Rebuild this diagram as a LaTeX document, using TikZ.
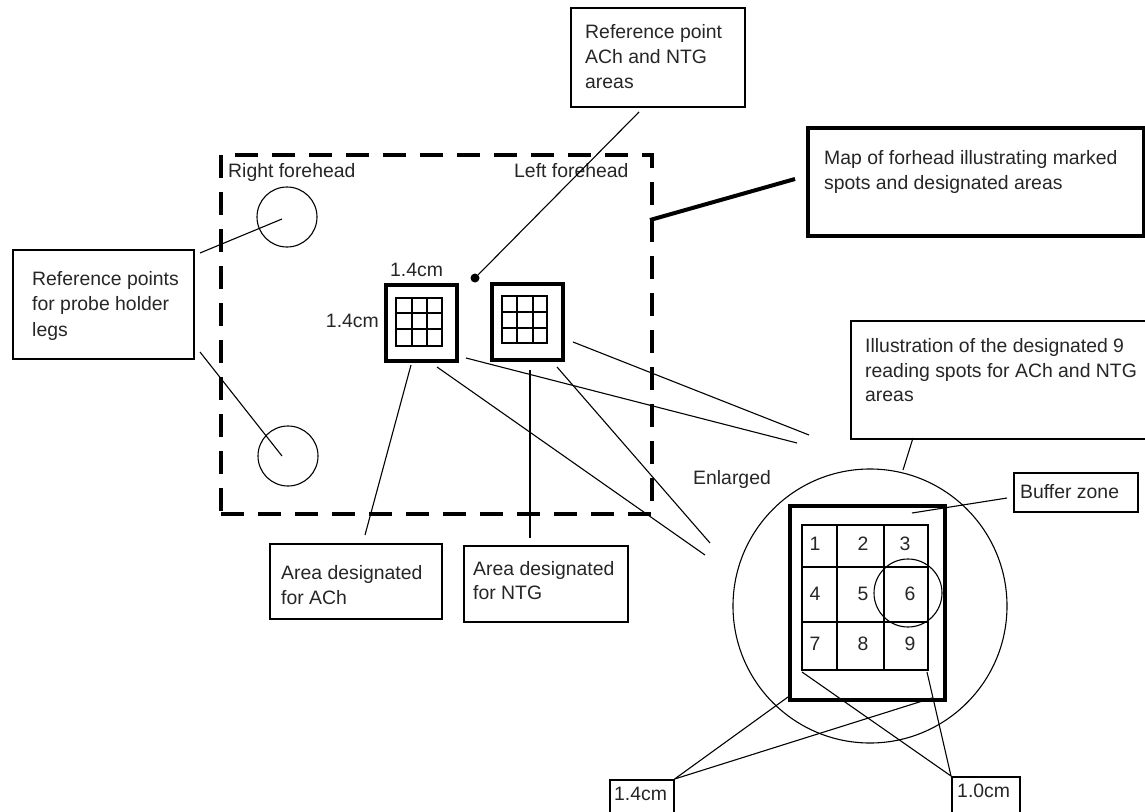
\documentclass[tikz,border=0pt]{standalone}
\usepackage{fontspec}
\setmainfont{Liberation Sans}
\begin{document}
\begin{tikzpicture}[x=1pt,y=-1pt,
  txt/.style={anchor=base west,inner sep=0pt,font=\fontsize{19.4}{24}\selectfont,text=black!85},
  ctxt/.style={anchor=base,inner sep=0pt,font=\fontsize{19.4}{24}\selectfont,text=black!85},
  rtxt/.style={anchor=base east,inner sep=0pt,font=\fontsize{19.4}{24}\selectfont,text=black!85},
  box/.style={draw,line width=1.6pt,anchor=north west,inner sep=0pt},
  thickbox/.style={draw,line width=4pt,anchor=north west,inner sep=0pt},
  conn/.style={line width=1.1pt},
  grid/.style={line width=1.3pt},
  ring/.style={circle,draw,line width=1.1pt,inner sep=0pt}]
\useasboundingbox (0,0) rectangle (1145,811);
\fill[white] (0,0) rectangle (1145,811);

% ---------- forehead map (dashed) ----------
\node[draw,line width=4pt,dash pattern=on 23pt off 14pt,anchor=north west,inner sep=0pt,
      minimum width=431pt,minimum height=359pt] (fmap) at (219,153) {};
\node[txt] (rfh) at (228,177) {Right forehead};
\node[txt] (lfh) at (514,177) {Left forehead};

\node[ring,minimum size=60pt] (legR) at (287,217) {};
\node[ring,minimum size=60pt] (legL) at (288,456) {};

% small squares
\node[draw,line width=3.5pt,anchor=north west,inner sep=0pt,minimum width=71pt,minimum height=76pt] (ach) at (384,283) {};
\draw[grid] (396,298) rectangle (442,346);
\draw[grid] (412,298) -- (412,346) (427,298) -- (427,346) (396,313) -- (442,313) (396,329) -- (442,329);
\node[draw,line width=3.5pt,anchor=north west,inner sep=0pt,minimum width=71pt,minimum height=76pt] (ntg) at (490,282) {};
\draw[grid] (502,296) rectangle (547,343);
\draw[grid] (517,296) -- (517,343) (533,296) -- (533,343) (502,312) -- (547,312) (502,328) -- (547,328);

\node[txt] (dimtop) at (390,276) {1.4cm};
\node[rtxt] (dimleft) at (379,327) {1.4cm};

\node[circle,fill,inner sep=0pt,minimum size=9pt] (refdot) at (475,278) {};

% ---------- labels ----------
\node[box,minimum width=181pt,minimum height=109pt] (refpts) at (12,249) {};
\node[txt] (rp1) at (32,285) {Reference points};
\node[txt] (rp2) at (32,310) {for probe holder};
\node[txt] (rp3) at (32,336) {legs};

\node[box,minimum width=174pt,minimum height=99pt] (refpt) at (570,7) {};
\node[txt] (rq1) at (585,38) {Reference point};
\node[txt] (rq2) at (585,63) {ACh and NTG};
\node[txt] (rq3) at (585,88) {areas};

\node[thickbox,minimum width=336pt,minimum height=108pt] (mapbox) at (806,126) {};
\node[txt] (mb1) at (824,164) {Map of forhead illustrating marked};
\node[txt] (mb2) at (824,189) {spots and designated areas};

\node[box,minimum width=300pt,minimum height=118pt] (illus) at (850,320) {};
\node[txt] (il1) at (865,352) {Illustration of the designated 9};
\node[txt] (il2) at (865,377) {reading spots for ACh and NTG};
\node[txt] (il3) at (865,401) {areas};

\node[box,minimum width=172pt,minimum height=75pt] (achbox) at (269,543) {};
\node[txt] (ab1) at (281,579) {Area designated};
\node[txt] (ab2) at (281,604) {for ACh};

\node[box,minimum width=164pt,minimum height=76pt] (ntgbox) at (463,545) {};
\node[txt] (nb1) at (473,575) {Area designated};
\node[txt] (nb2) at (473,599) {for NTG};

\node[txt] (enl) at (693,484) {Enlarged};

% ---------- enlarged view ----------
\node[ring,minimum size=274pt] (bigc) at (870,606) {};
\node[thickbox,minimum width=155pt,minimum height=194pt] (enlbox) at (788,504) {};
\draw[grid] (802,525) rectangle (928,670);
\draw[grid] (837,525) -- (837,670) (884,525) -- (884,670) (802,567) -- (928,567) (802,622) -- (928,622);
\node[ctxt] (n1) at (815,550) {1};
\node[ctxt] (n2) at (863,550) {2};
\node[ctxt] (n3) at (905,550) {3};
\node[ctxt] (n4) at (815,600) {4};
\node[ctxt] (n5) at (863,600) {5};
\node[ctxt] (n6) at (910,600) {6};
\node[ctxt] (n7) at (815,650) {7};
\node[ctxt] (n8) at (863,650) {8};
\node[ctxt] (n9) at (910,650) {9};
\node[ring,minimum size=68pt] (spot) at (908,593) {};

\node[box,minimum width=124pt,minimum height=39pt] (buffer) at (1013,472) {};
\node[txt] (bz) at (1020,498) {Buffer zone};

\node[box,minimum width=64pt,minimum height=34pt] (d14) at (609,779) {};
\node[txt] (d14t) at (614,800) {1.4cm};
\node[box,minimum width=68pt,minimum height=37pt] (d10) at (951,776) {};
\node[txt] (d10t) at (957,797) {1.0cm};

% ---------- connector end points ----------
\coordinate (c1) at (200,253);
\coordinate (c1e) at (282,219);
\coordinate (c2) at (200,352);
\coordinate (c2e) at (282,456);
\coordinate (c3) at (639,112);
\coordinate (c4) at (650,220);
\coordinate (c4e) at (795,179);
\coordinate (c5) at (365,535);
\coordinate (c5e) at (411,365);
\coordinate (c6) at (530,538);
\coordinate (c6e) at (530,370);
\coordinate (pa) at (437,367);  \coordinate (pae) at (705,555);
\coordinate (pb) at (466,358);  \coordinate (pbe) at (797,443);
\coordinate (pc) at (573,342);  \coordinate (pce) at (809,435);
\coordinate (pd) at (557,367);  \coordinate (pde) at (710,543);
\coordinate (c11) at (913,438); \coordinate (c11e) at (903,470);
\coordinate (c12) at (1007,498); \coordinate (c12e) at (912,513);
\coordinate (c14a) at (788,697); \coordinate (c14b) at (932,698);
\coordinate (c10a) at (802,672); \coordinate (c10b) at (927,672);

% ---------- connectors ----------
\draw[conn] (c1) -- (c1e);
\draw[conn] (c2) -- (c2e);
\draw[conn] (c3) -- (refdot);
\draw[line width=4pt] (c4) -- (c4e);
\draw[conn] (c5) -- (c5e);
\draw[conn] (c6) -- (c6e);
\draw[conn] (pa) -- (pae);
\draw[conn] (pb) -- (pbe);
\draw[conn] (pc) -- (pce);
\draw[conn] (pd) -- (pde);
\draw[conn] (c11) -- (c11e);
\draw[conn] (c12) -- (c12e);
\draw[conn] (d14.north east) -- (c14a);
\draw[conn] (d14.north east) -- (c14b);
\draw[conn] (d10.north west) -- (c10a);
\draw[conn] (d10.north west) -- (c10b);
\end{tikzpicture}
\end{document}
